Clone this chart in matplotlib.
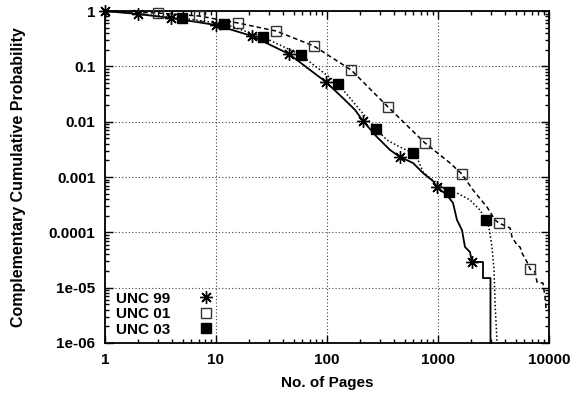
import numpy as np
import matplotlib
matplotlib.use("Agg")
import matplotlib.pyplot as plt
from matplotlib.lines import Line2D
from matplotlib.ticker import FixedLocator, LogLocator, NullFormatter

plt.rcParams['font.family'] = ['Liberation Sans', 'DejaVu Sans']
plt.rcParams['font.weight'] = 'bold'
plt.rcParams['font.size'] = 11

# UNC 99 (solid, asterisks)
pages99 = [1, 1.98, 3.93, 10.0, 21.1, 45.5, 98, 139, 179, 211, 282, 370, 455, 596, 733, 901,
           979, 1205, 1365, 1483, 1644, 1750, 1941, 2024, 2543, 2543, 2970, 2970]
ccdf99 = [1, 0.883, 0.747, 0.558, 0.353, 0.167, 0.052, 0.0268, 0.0163, 0.0103, 0.00528, 0.00308,
          0.0023, 0.00179, 0.00118, 0.000847, 0.000659, 0.000473, 0.000339, 0.000167, 0.00011,
          5.43e-5, 4.41e-5, 2.91e-5, 2.91e-5, 1.49e-5, 1.49e-5, 1e-6]
marks99 = [0, 1, 2, 3, 4, 5, 6, 9, 12, 16, 23]

# UNC 01 (dashed, open squares)
pages01 = [1, 3.0, 7.03, 15.8, 34.7, 76.3, 165, 355, 764, 1283, 1644, 2066, 2762, 3266, 3548,
           4457, 4645, 5152, 5483, 5715, 6339, 6745, 7482, 7798, 8831, 9204, 9397]
ccdf01 = [1, 0.92, 0.812, 0.607, 0.435, 0.233, 0.0859, 0.0184, 0.00411, 0.00179, 0.00113,
          0.000582, 0.000287, 0.000167, 0.000147, 0.00012, 8.22e-5, 5.9e-5, 5.43e-5, 4.23e-5,
          2.91e-5, 2.17e-5, 1.92e-5, 1.26e-5, 1.21e-5, 6.78e-6, 4.29e-6]
marks01 = [1, 2, 3, 4, 5, 6, 7, 8, 10, 14, 21]

# UNC 03 (dotted, filled squares)
pages03 = [1, 4.94, 11.8, 26.5, 58.3, 126, 276, 347, 455, 596, 661, 733, 847, 979, 1256, 1483,
           1941, 2388, 2706, 2878, 3064, 3198, 3266, 3404]
ccdf03 = [1, 0.747, 0.582, 0.339, 0.160, 0.048, 0.00737, 0.00466, 0.00348, 0.00272, 0.00203,
          0.00123, 0.00096, 0.000778, 0.000536, 0.000514, 0.000384, 0.000253, 0.000167,
          0.000125, 5.43e-5, 2.08e-5, 5.28e-6, 1e-6]
marks03 = [1, 2, 3, 4, 5, 6, 9, 14, 18]

labels = ['UNC 99', 'UNC 01', 'UNC 03']
xticks = [1, 10, 100, 1000, 10000]
xticklabels = ['1', '10', '100', '1000', '10000']
yticks = [1, 0.1, 0.01, 0.001, 0.0001, 1e-05, 1e-06]
yticklabels = ['1', '0.1', '0.01', '0.001', '0.0001', '1e-05', '1e-06']

star = (8, 2, 0)

fig = plt.figure(figsize=(5.79, 4.0), dpi=100)
ax = fig.add_axes([0.1813, 0.1425, 0.7669, 0.83])

ax.plot(pages99, ccdf99, color='black', lw=1.3, ls='-', marker=star, markevery=marks99,
        ms=9, mew=1.0, clip_on=False, zorder=3)
ax.plot(pages01, ccdf01, color='black', lw=1.1, ls=(0, (3, 2)), marker='s', markevery=marks01,
        ms=7.5, mfc='none', mec='#333333', mew=1.0, clip_on=False, zorder=3)
ax.plot(pages03, ccdf03, color='black', lw=1.1, ls=(0, (1, 1.5)), marker='s', markevery=marks03,
        ms=7.5, mfc='black', mec='black', clip_on=False, zorder=3)

ax.set_xscale('log')
ax.set_yscale('log')
ax.set_xlim(1, 10000)
ax.set_ylim(1e-6, 1)

ax.xaxis.set_major_locator(FixedLocator(xticks))
ax.set_xticklabels(xticklabels)
ax.yaxis.set_major_locator(FixedLocator(yticks))
ax.set_yticklabels(yticklabels)
ax.xaxis.set_minor_locator(LogLocator(base=10, subs=np.arange(2, 10)))
ax.yaxis.set_minor_locator(LogLocator(base=10, subs=np.arange(2, 10)))
ax.xaxis.set_minor_formatter(NullFormatter())
ax.yaxis.set_minor_formatter(NullFormatter())

ax.tick_params(which='both', direction='in', top=True, right=True, width=1.0)
ax.tick_params(which='major', length=6, pad=7)
ax.tick_params(which='minor', length=3)
for s in ax.spines.values():
    s.set_linewidth(1.3)

ax.grid(True, which='major', ls=(0, (1, 2)), color='#444444', lw=0.8)

ax.set_xlabel('No. of Pages', fontweight='bold', labelpad=7)
ax.set_ylabel('Complementary Cumulative Probability', fontweight='bold', fontsize=11.5,
              labelpad=16)

handles = [
    Line2D([], [], ls='none', marker=star, color='black', ms=9, mew=1.0),
    Line2D([], [], ls='none', marker='s', mfc='none', mec='#333333', ms=7.5),
    Line2D([], [], ls='none', marker='s', mfc='black', mec='black', ms=7.5),
]
ax.legend(handles, labels, loc='lower left', bbox_to_anchor=(0.005, -0.009),
          frameon=False, markerfirst=False,
          handlelength=1.0, handletextpad=1.8, labelspacing=0.1, borderaxespad=0.0,
          borderpad=0.6, prop={'weight': 'bold', 'size': 11})

fig.savefig('out.png', dpi=100)
